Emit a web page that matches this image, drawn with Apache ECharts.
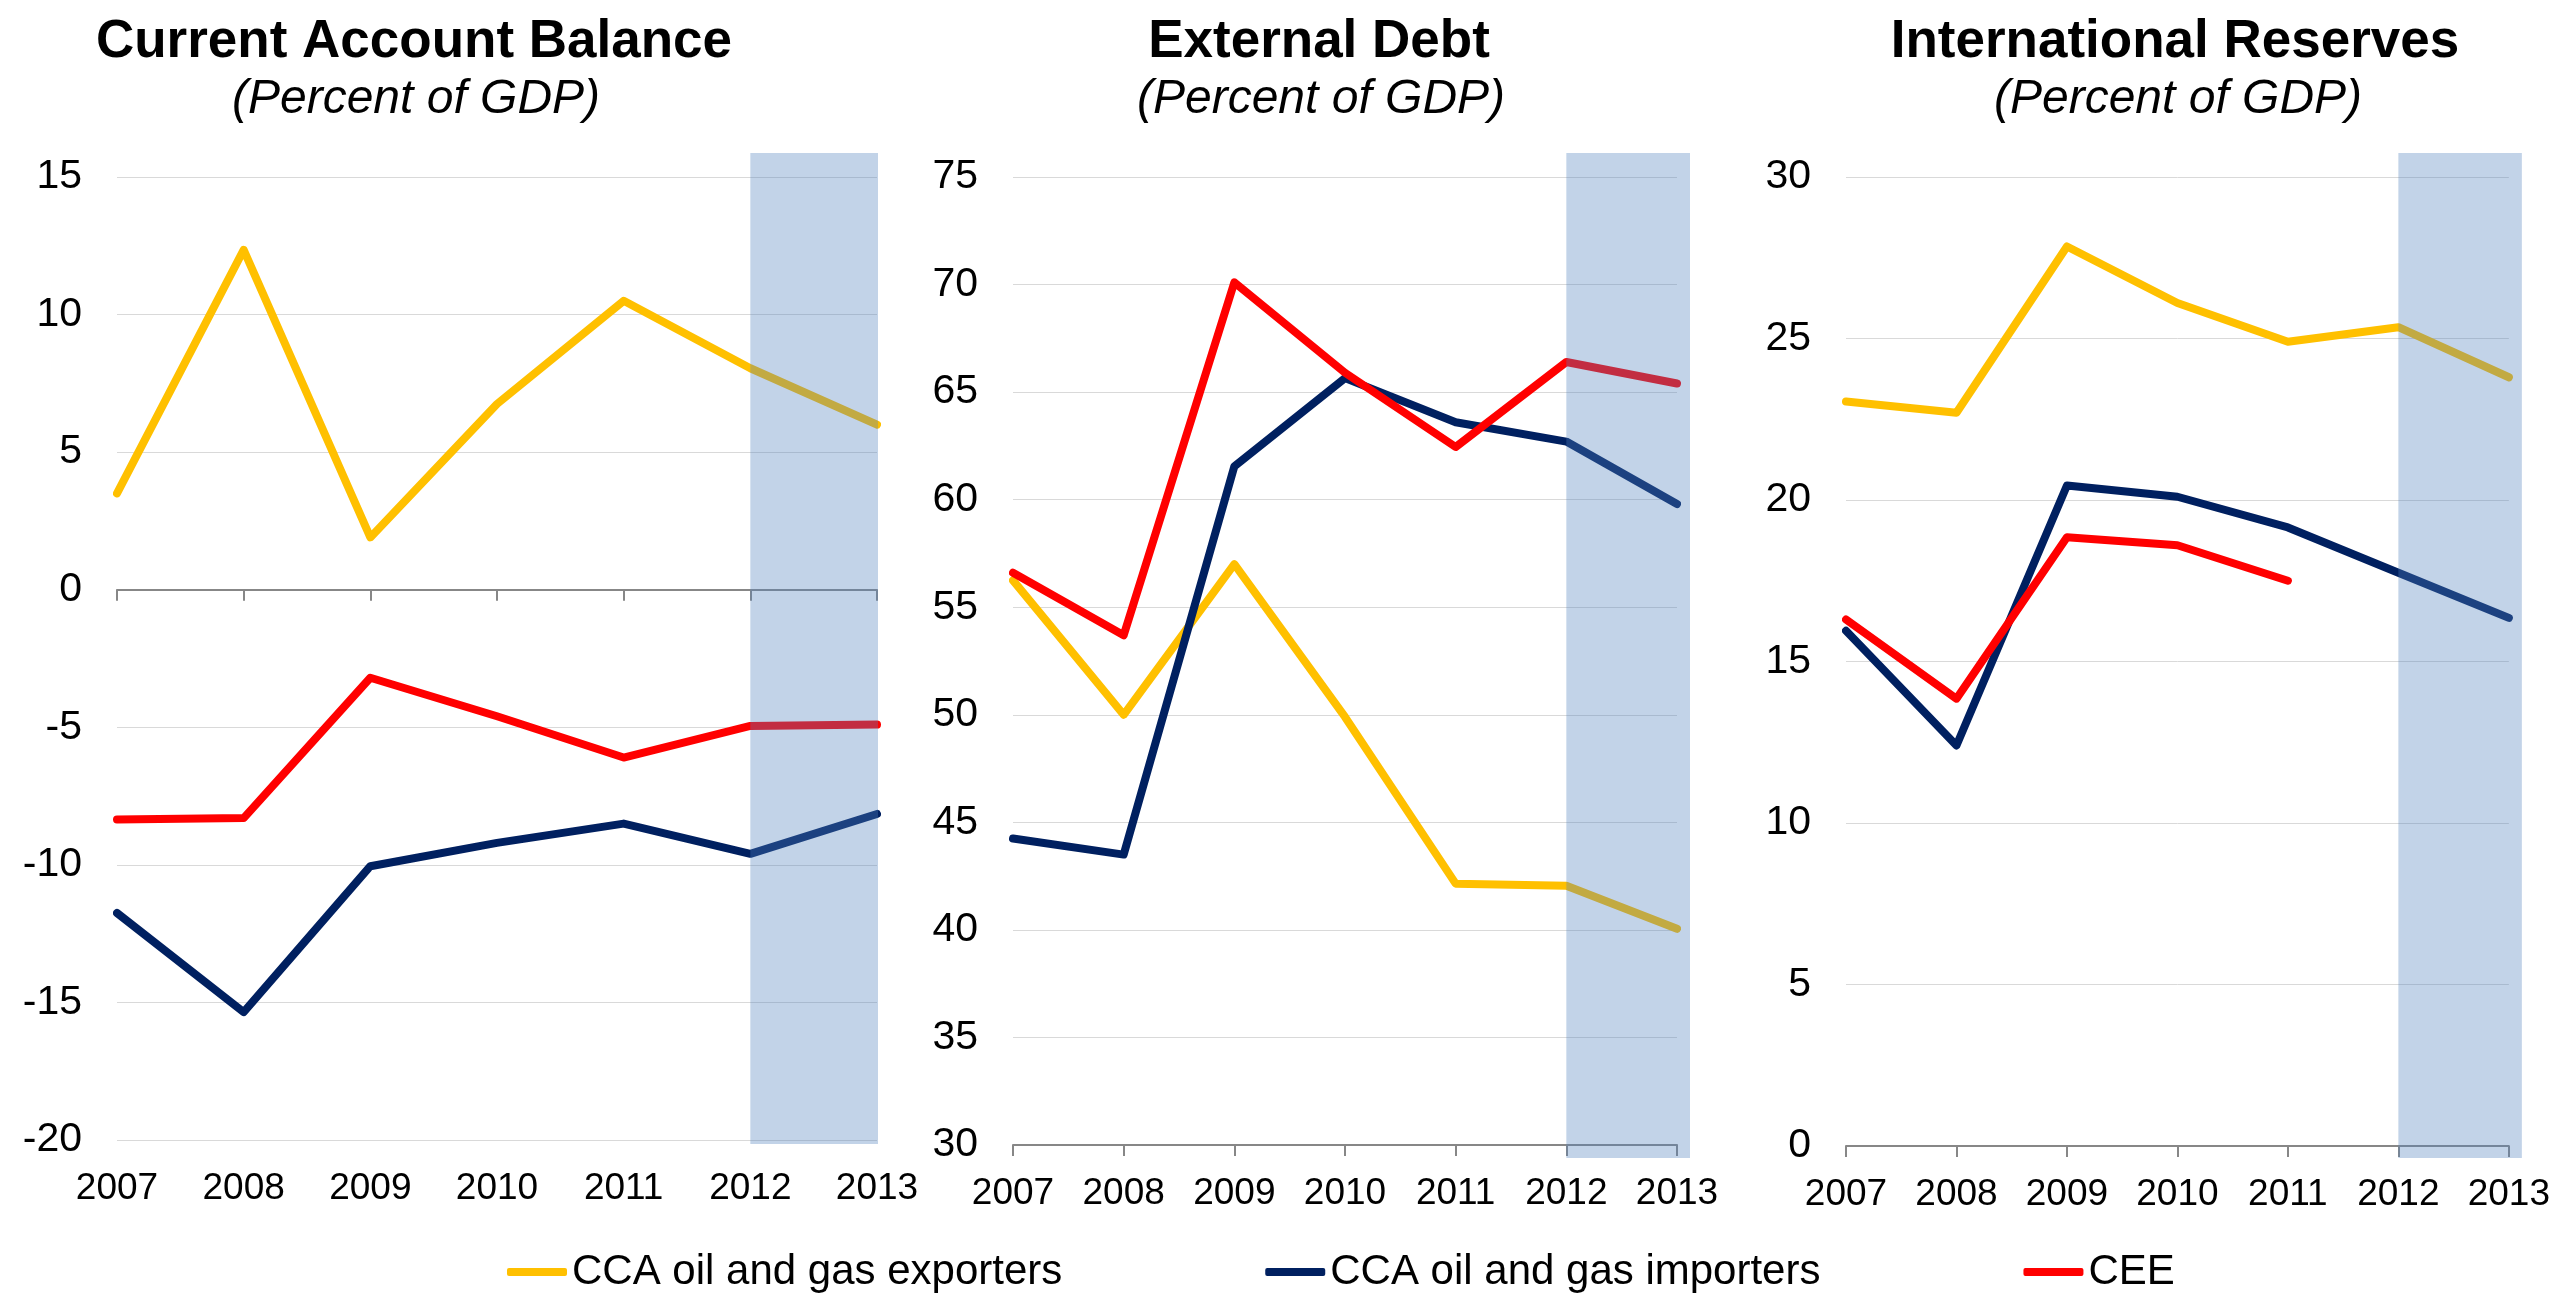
<!DOCTYPE html>
<html>
<head>
<meta charset="utf-8">
<script src="https://cdn.jsdelivr.net/npm/echarts@6/dist/echarts.min.js"></script>
<style>
  html, body { margin: 0; padding: 0; background: #ffffff; }
  #chart { width: 2553px; height: 1293px; }
</style>
</head>
<body>
<div id="chart"></div>
<script>
// Categories and series
const years = ['2007', '2008', '2009', '2010', '2011', '2012', '2013'];
const seriesNames = ['CCA oil and gas exporters', 'CCA oil and gas importers', 'CEE'];
const forecastYears = ['2012', '2013'];

// Current account balance (percent of GDP)
const cabExporters = [3.5, 12.35, 1.9, 6.75, 10.5, 8.05, 6.0];
const cabImporters = [-11.75, -15.35, -10.05, -9.2, -8.5, -9.6, -8.15];
const cabCEE = [-8.35, -8.3, -3.2, -4.6, -6.1, -4.95, -4.9];

// External debt (percent of GDP)
const edExporters = [56.25, 50.0, 57.0, 49.9, 42.15, 42.05, 40.05];
const edImporters = [44.25, 43.5, 61.55, 65.65, 63.6, 62.7, 59.8];
const edCEE = [56.6, 53.7, 70.1, 65.9, 62.45, 66.4, 65.4];

// International reserves (percent of GDP)
const irExporters = [23.05, 22.7, 27.85, 26.1, 24.9, 25.35, 23.8];
const irImporters = [15.95, 12.4, 20.45, 20.1, 19.15, 17.75, 16.35];
const irCEE = [16.3, 13.85, 18.85, 18.6, 17.5, null, null];

// Panel titles and value-axis ranges
const panelTitles = ['Current Account Balance', 'External Debt', 'International Reserves'];
const panelSubtitle = '(Percent of GDP)';
const cabAxis = { min: -20, max: 15, interval: 5 };
const edAxis = { min: 30, max: 75, interval: 5 };
const irAxis = { min: 0, max: 30, interval: 5 };

// ---- styling / layout ----
const FONT = '"Liberation Sans", Arial, Helvetica, sans-serif';
const colors = ['#FFC000', '#002060', '#FF0000'];
const shadeFill = 'rgba(79,129,189,0.35)';
const axisGray = '#878787';

const panels = [
  { axis: cabAxis, data: [cabExporters, cabImporters, cabCEE],
    grid: { left: 117, top: 177, width: 760, height: 963 },
    titleX: 414, subX: 416, shade: { top: 24, bottom: 4, right: 1 } },
  { axis: edAxis, data: [edExporters, edImporters, edCEE],
    grid: { left: 1013, top: 177, width: 664, height: 968 },
    titleX: 1319, subX: 1321, shade: { top: 24, bottom: 13, right: 13 } },
  { axis: irAxis, data: [irExporters, irImporters, irCEE],
    grid: { left: 1846, top: 177, width: 664, height: 969 },
    titleX: 2175, subX: 2178, shade: { top: 24, bottom: 12, right: 13 } }
];

const grids = [], xAxes = [], yAxes = [], series = [], graphics = [];

panels.forEach((p, i) => {
  grids.push(Object.assign({ containLabel: false }, p.grid));

  xAxes.push({
    type: 'category', gridIndex: i, data: years, boundaryGap: false,
    axisLine: { show: true, onZero: true, lineStyle: { color: axisGray, width: 2 } },
    axisTick: { show: true, length: 11, interval: 0, lineStyle: { color: axisGray, width: 2 } },
    axisLabel: { show: i !== 0, interval: 0, margin: 30, color: '#000', fontSize: 37, fontFamily: FONT },
    splitLine: { show: false }
  });

  yAxes.push({
    type: 'value', gridIndex: i,
    min: p.axis.min, max: p.axis.max, interval: p.axis.interval,
    axisLine: { show: false }, axisTick: { show: false },
    axisLabel: { margin: 35, color: '#000', fontSize: 41, fontFamily: FONT },
    splitLine: { show: true, lineStyle: { color: '#D9D9D9', width: 1 } }
  });

  p.data.forEach((values, k) => {
    series.push({
      name: seriesNames[k], type: 'line', xAxisIndex: i, yAxisIndex: i,
      data: values, symbol: 'none', showSymbol: false, connectNulls: false,
      z: 2, animation: false,
      lineStyle: { width: 8, color: colors[k], cap: 'round', join: 'round' },
      itemStyle: { color: colors[k] }
    });
  });

  // Forecast period band, drawn over the lines
  const ext = p.shade;
  series.push({
    type: 'custom', xAxisIndex: i, yAxisIndex: i, z: 3, silent: true, animation: false,
    clip: false,
    encode: { x: [0, 1], y: [2, 3] },
    data: [[years.indexOf(forecastYears[0]), years.indexOf(forecastYears[1]), p.axis.max, p.axis.min]],
    renderItem: function (params, api) {
      const a = api.coord([api.value(0), api.value(2)]);
      const b = api.coord([api.value(1), api.value(3)]);
      return {
        type: 'rect',
        shape: { x: a[0], y: a[1] - ext.top, width: b[0] - a[0] + ext.right, height: b[1] - a[1] + ext.top + ext.bottom },
        style: { fill: shadeFill }
      };
    }
  });

  graphics.push({
    type: 'text', x: p.titleX, y: 42, silent: true,
    style: { text: panelTitles[i], font: 'bold 53px ' + FONT, fill: '#000', textAlign: 'center', textVerticalAlign: 'middle' }
  });
  graphics.push({
    type: 'text', x: p.subX, y: 100, silent: true,
    style: { text: panelSubtitle, font: 'italic 48px ' + FONT, fill: '#000', textAlign: 'center', textVerticalAlign: 'middle' }
  });
});

// Year labels of the first panel sit at the bottom, while its axis line stays at zero
xAxes.push({
  type: 'category', gridIndex: 0, data: years, boundaryGap: false, position: 'bottom',
  axisLine: { show: false, onZero: false }, axisTick: { show: false },
  axisLabel: { show: true, interval: 0, margin: 30, color: '#000', fontSize: 37, fontFamily: FONT },
  splitLine: { show: false }
});

const chart = echarts.init(document.getElementById('chart'), null, { renderer: 'canvas' });
chart.setOption({
  backgroundColor: '#ffffff',
  animation: false,
  textStyle: { fontFamily: FONT },
  grid: grids,
  xAxis: xAxes,
  yAxis: yAxes,
  legend: {
    data: seriesNames, left: 502, top: 1246,
    icon: 'roundRect', itemWidth: 60, itemHeight: 8, itemGap: 203,
    textStyle: { fontSize: 42, color: '#000', fontFamily: FONT }
  },
  graphic: graphics,
  series: series
});
</script>
</body>
</html>
